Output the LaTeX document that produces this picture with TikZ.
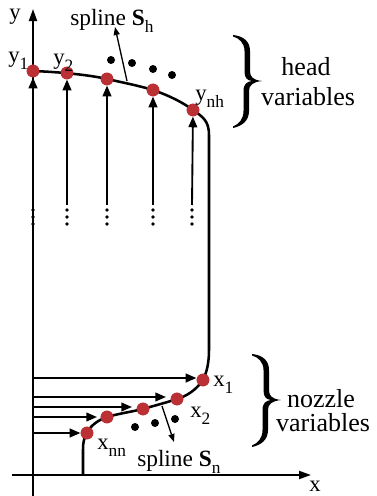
\documentclass[tikz,border=0pt]{standalone}
\usepackage{fontspec}
\setmainfont{Liberation Serif}
\usetikzlibrary{arrows.meta}
\definecolor{dotred}{RGB}{186,48,52}
\newcommand\lowsub[1]{\raisebox{-0.32em}{\fontsize{13}{13}\selectfont #1}}
\begin{document}
\begin{tikzpicture}[x=0.75pt,y=-0.75pt,
  axis/.style={line width=1.4pt},
  arr/.style={line width=1.4pt,-{Triangle[length=8pt,width=6.5pt]}},
  curve/.style={line width=1.9pt},
  reddot/.style={circle,fill=dotred,inner sep=0pt,minimum size=9.5pt},
  blackdot/.style={circle,fill=black,inner sep=0pt,minimum size=6pt},
  smalldot/.style={circle,fill=black,inner sep=0pt,minimum size=2.8pt},
  lbl/.style={font=\fontsize{17}{19}\selectfont,inner sep=0pt},
  splbl/.style={font=\fontsize{17.5}{19}\selectfont,inner sep=0pt,anchor=base west},
  biglbl/.style={font=\fontsize{19.5}{21}\selectfont,inner sep=0pt,anchor=base},
  bigbrace/.pic={
    \fill (0,-46) .. controls (10,-45) and (17,-40) .. (17,-30)
      -- (17,-10) .. controls (17,-4) and (20,-1) .. (29,0)
      .. controls (20,1) and (16,4) .. (16,10) -- (16,30)
      .. controls (16,40) and (9,45) .. (0,47)
      -- (0,45.5) .. controls (6,43) and (10.5,38) .. (10.5,30)
      -- (10.5,10) .. controls (10.5,3) and (14,0.6) .. (19,0)
      .. controls (14,-0.6) and (11.5,-3) .. (11.5,-10) -- (11.5,-30)
      .. controls (11.5,-38) and (6,-43) .. (0,-44.5) -- cycle;
  },
  ]
\useasboundingbox (0,0) rectangle (376,496);
% axes
\coordinate (yb) at (33,496);
\coordinate (yt) at (33,9);
\coordinate (xl) at (12,475);
\coordinate (xr) at (311,475);
\draw[axis,-{Triangle[length=9pt,width=6pt]}] (yb) -- (yt);
\draw[axis,-{Triangle[length=9pt,width=6pt]}] (xl) -- (xr);
\node[lbl] (ylab) at (15,17) {y};
\node[lbl] (xlab) at (315,486) {x};
% head dots
\node[reddot] (h1) at (33,71) {};
\node[reddot] (h2) at (67,73) {};
\node[reddot] (h3) at (107,79) {};
\node[reddot] (h4) at (153,90) {};
\node[reddot] (h5) at (193,110) {};
% nozzle dots
\node[reddot] (n1) at (203,380) {};
\node[reddot] (n2) at (177,399) {};
\node[reddot] (n3) at (143,409) {};
\node[reddot] (n4) at (107,417) {};
\node[reddot] (n5) at (87,433) {};
% curve
\draw[curve] (33,71) .. controls (60,72) and (90,75) .. (107,79)
  .. controls (125,83) and (140,86) .. (153,90)
  .. controls (170,96) and (182,102) .. (193,110)
  .. controls (203,117) and (209,121) .. (209,135)
  -- (209,350)
  .. controls (209,362) and (207,372) .. (203,380)
  .. controls (196,390) and (187,396) .. (177,399)
  .. controls (165,403) and (153,406) .. (143,409)
  .. controls (130,412) and (117,414) .. (107,417)
  .. controls (98,420) and (90,426) .. (87,433)
  .. controls (84,438) and (83,442) .. (83,450)
  -- (83,475);
% redraw dots on top
\foreach \n in {h1,h2,h3,h4,h5,n1,n2,n3,n4,n5}{\fill[dotred] (\n) circle (4.75pt);}
% vertical arrows to head dots
\foreach \i/\x in {1/33,2/67,3/107,4/153,5/192}{
  \coordinate (vs\i) at (\x,205);
  \draw[arr] (vs\i) -- (h\i);
  \node[smalldot] (va\i) at (\x,210) {};
  \node[smalldot] (vb\i) at (\x,217) {};
  \node[smalldot] (vc\i) at (\x,224) {};
}
% horizontal arrows to nozzle dots
\foreach \i/\y in {1/378,2/397,3/407,4/417,5/433}{
  \coordinate (hs\i) at (33,\y);
}
\draw[arr] (hs1) -- (n1.west |- hs1);
\draw[arr] (hs2) -- (166,397);
\draw[arr] (hs3) -- (132,407);
\draw[arr] (hs4) -- (97,417);
\draw[arr] (hs5) -- (n5.west |- hs5);
% black ellipsis dots
\node[blackdot] (e1) at (111,60) {};
\node[blackdot] (e2) at (132,63) {};
\node[blackdot] (e3) at (153,69) {};
\node[blackdot] (e4) at (172,75) {};
\node[blackdot] (f1) at (135,427) {};
\node[blackdot] (f2) at (155,423) {};
\node[blackdot] (f3) at (175,419) {};
% spline arrows
\coordinate (sh0) at (127,81);
\coordinate (sh1) at (115,27);
\draw[line width=1pt,-{Triangle[length=6pt,width=4.5pt]}] (sh0) -- (sh1);
\coordinate (sn0) at (162,406);
\coordinate (sn1) at (174,442);
\draw[line width=1pt,-{Triangle[length=6pt,width=4.5pt]}] (sn0) -- (sn1);
\node[splbl] (shl) at (70,25) {spline \textbf{S}\lowsub{h}};
\node[splbl] (snl) at (137,466) {spline \textbf{S}\lowsub{n}};
% dot labels
\node[lbl,anchor=base west] (ly1) at (8,62) {y\lowsub{1}};
\node[lbl,anchor=base west] (ly2) at (53,64) {y\lowsub{2}};
\node[lbl,anchor=base west] (lynh) at (195,100) {y\lowsub{nh}};
\node[lbl,anchor=base west] (lx1) at (213,386) {x\lowsub{1}};
\node[lbl,anchor=base west] (lx2) at (190,417) {x\lowsub{2}};
\node[lbl,anchor=base west] (lxnn) at (97,449) {x\lowsub{nn}};
% braces
\pic at (233,81) {bigbrace};
\node[biglbl] (th1) at (306,75) {head};
\node[biglbl] (th2) at (308,105) {variables};
\pic at (252,400) {bigbrace};
\node[biglbl] (tn1) at (321,407) {nozzle};
\node[biglbl] (tn2) at (323,431) {variables};
\end{tikzpicture}
\end{document}
